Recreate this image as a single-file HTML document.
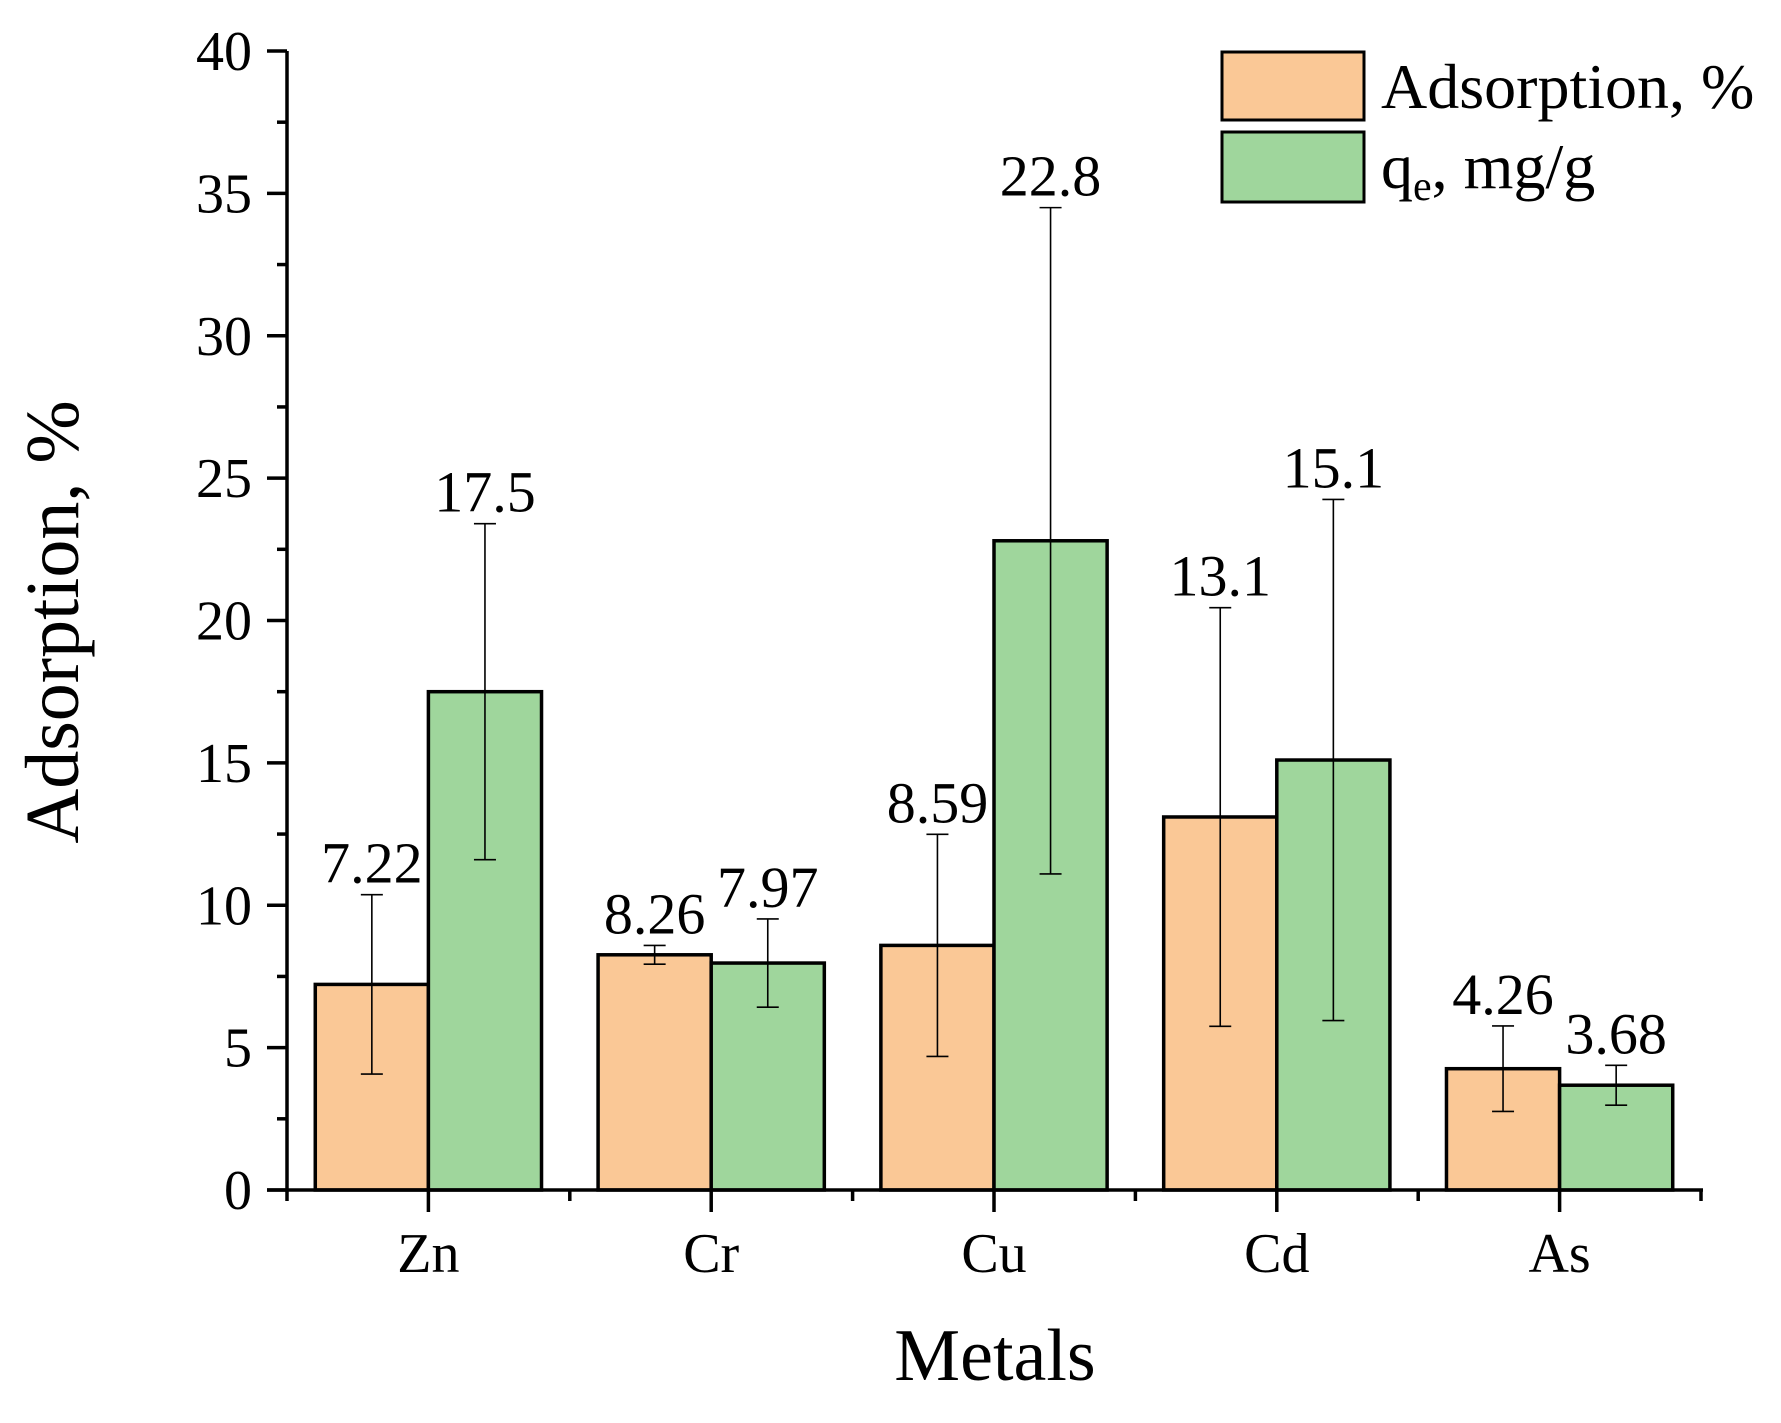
<!DOCTYPE html>
<html><head><meta charset="utf-8"><style>
html,body{margin:0;padding:0;background:#fff;}
svg{display:block;font-family:"Liberation Serif","Times New Roman",serif;}
</style></head><body>
<svg id="chart" width="1781" height="1423" viewBox="0 0 1781 1423" xmlns="http://www.w3.org/2000/svg"></svg>
<script>
const categories = ["Zn","Cr","Cu","Cd","As"];
const adsorption = [7.22, 8.26, 8.59, 13.1, 4.26];
const adsorptionErr = [3.15, 0.33, 3.9, 7.35, 1.5];
const qe = [17.5, 7.97, 22.8, 15.1, 3.68];
const qeErr = [5.9, 1.55, 11.7, 9.15, 0.7];
const adsorptionLabels = ["7.22","8.26","8.59","13.1","4.26"];
const qeLabels = ["17.5","7.97","22.8","15.1","3.68"];
const yTicks = [0,5,10,15,20,25,30,35,40];

const NS = "http://www.w3.org/2000/svg";
const svg = document.getElementById('chart');
const X0 = 287, X1 = 1701, Y0 = 1190, Y1 = 51, YMAX = 40;
const band = (X1 - X0) / categories.length;
const barW = band * 0.4;
function y(v){ return Y0 - (Y0 - Y1) * v / YMAX; }
function xc(i){ return X0 + band * (i + 0.5); }
function mk(tag, attrs, parent){
  const e = document.createElementNS(NS, tag);
  for (const k in attrs) e.setAttribute(k, attrs[k]);
  (parent || svg).appendChild(e);
  return e;
}

const series = [
  {vals: adsorption, err: adsorptionErr, labels: adsorptionLabels, fill: "#FAC896", off: -1, name: "adsorption"},
  {vals: qe, err: qeErr, labels: qeLabels, fill: "#9FD69C", off: 0, name: "qe"}
];
series.forEach(s => {
  s.vals.forEach((v, i) => {
    const x = xc(i) + s.off * barW;
    const r = mk('rect', {x: x, y: y(v), width: barW, height: Y0 - y(v), fill: s.fill, stroke: "#000", "stroke-width": 3.5});
    
    
  });
});
series.forEach(s => {
  s.vals.forEach((v, i) => {
    const cx = xc(i) + s.off * barW + barW / 2;
    const top = y(v + s.err[i]), bot = y(v - s.err[i]);
    const g = mk('g', {stroke: "#000", "stroke-width": 1.6});
    
    
    mk('line', {x1: cx, x2: cx, y1: top, y2: bot}, g);
    mk('line', {x1: cx - 11, x2: cx + 11, y1: top, y2: top}, g);
    mk('line', {x1: cx - 11, x2: cx + 11, y1: bot, y2: bot}, g);
    const t = mk('text', {x: cx, y: top - 12, "font-size": 58, "text-anchor": "middle", fill: "#000"});
    t.textContent = s.labels[i];
    
    
  });
});

const ax = mk('g', {stroke: "#000", "stroke-width": 3.5});


mk('line', {x1: X0, x2: X0, y1: Y1, y2: Y0 + 1.75}, ax);
mk('line', {x1: X0 - 20, x2: X1 + 2, y1: Y0, y2: Y0}, ax);
yTicks.forEach((v, i) => {
  mk('line', {x1: X0 - 20, x2: X0, y1: y(v), y2: y(v)}, ax);
  if (i < yTicks.length - 1) mk('line', {x1: X0 - 10, x2: X0, y1: y(v + 2.5), y2: y(v + 2.5)}, ax);
  const t = mk('text', {x: 252, y: y(v) + 19, "font-size": 56, "text-anchor": "end", fill: "#000", stroke: "none"});
  t.textContent = v;
  
  
});
for (let i = 0; i <= categories.length; i++) {
  const bx = X0 + band * i;
  mk('line', {x1: bx, x2: bx, y1: Y0, y2: Y0 + 11}, ax);
}
categories.forEach((c, i) => {
  mk('line', {x1: xc(i), x2: xc(i), y1: Y0, y2: Y0 + 22}, ax);
  const t = mk('text', {x: xc(i), y: 1272, "font-size": 56, "text-anchor": "middle", fill: "#000"});
  t.textContent = c;
  
  
});

const xt = mk('text', {x: 995, y: 1380, "font-size": 74, "text-anchor": "middle", fill: "#000"});
xt.textContent = "Metals";


const yt = mk('text', {x: 0, y: 0, "font-size": 76, "text-anchor": "middle", fill: "#000", transform: "translate(78,622) rotate(-90)"});
yt.textContent = "Adsorption, %";



const lg = mk('g', {});


const r1 = mk('rect', {x: 1222, y: 52, width: 142, height: 68, fill: "#FAC896", stroke: "#000", "stroke-width": 3}, lg);


const r2 = mk('rect', {x: 1222, y: 132, width: 142, height: 70, fill: "#9FD69C", stroke: "#000", "stroke-width": 3}, lg);


const t1 = mk('text', {x: 1381, y: 108, "font-size": 64, fill: "#000"}, lg);
t1.textContent = "Adsorption, %";


const t2 = mk('text', {x: 1381, y: 188, "font-size": 64, fill: "#000"}, lg);
t2.innerHTML = 'q<tspan font-size="42" dy="12">e</tspan><tspan dy="-12">, mg/g</tspan>';


</script>
</body></html>
